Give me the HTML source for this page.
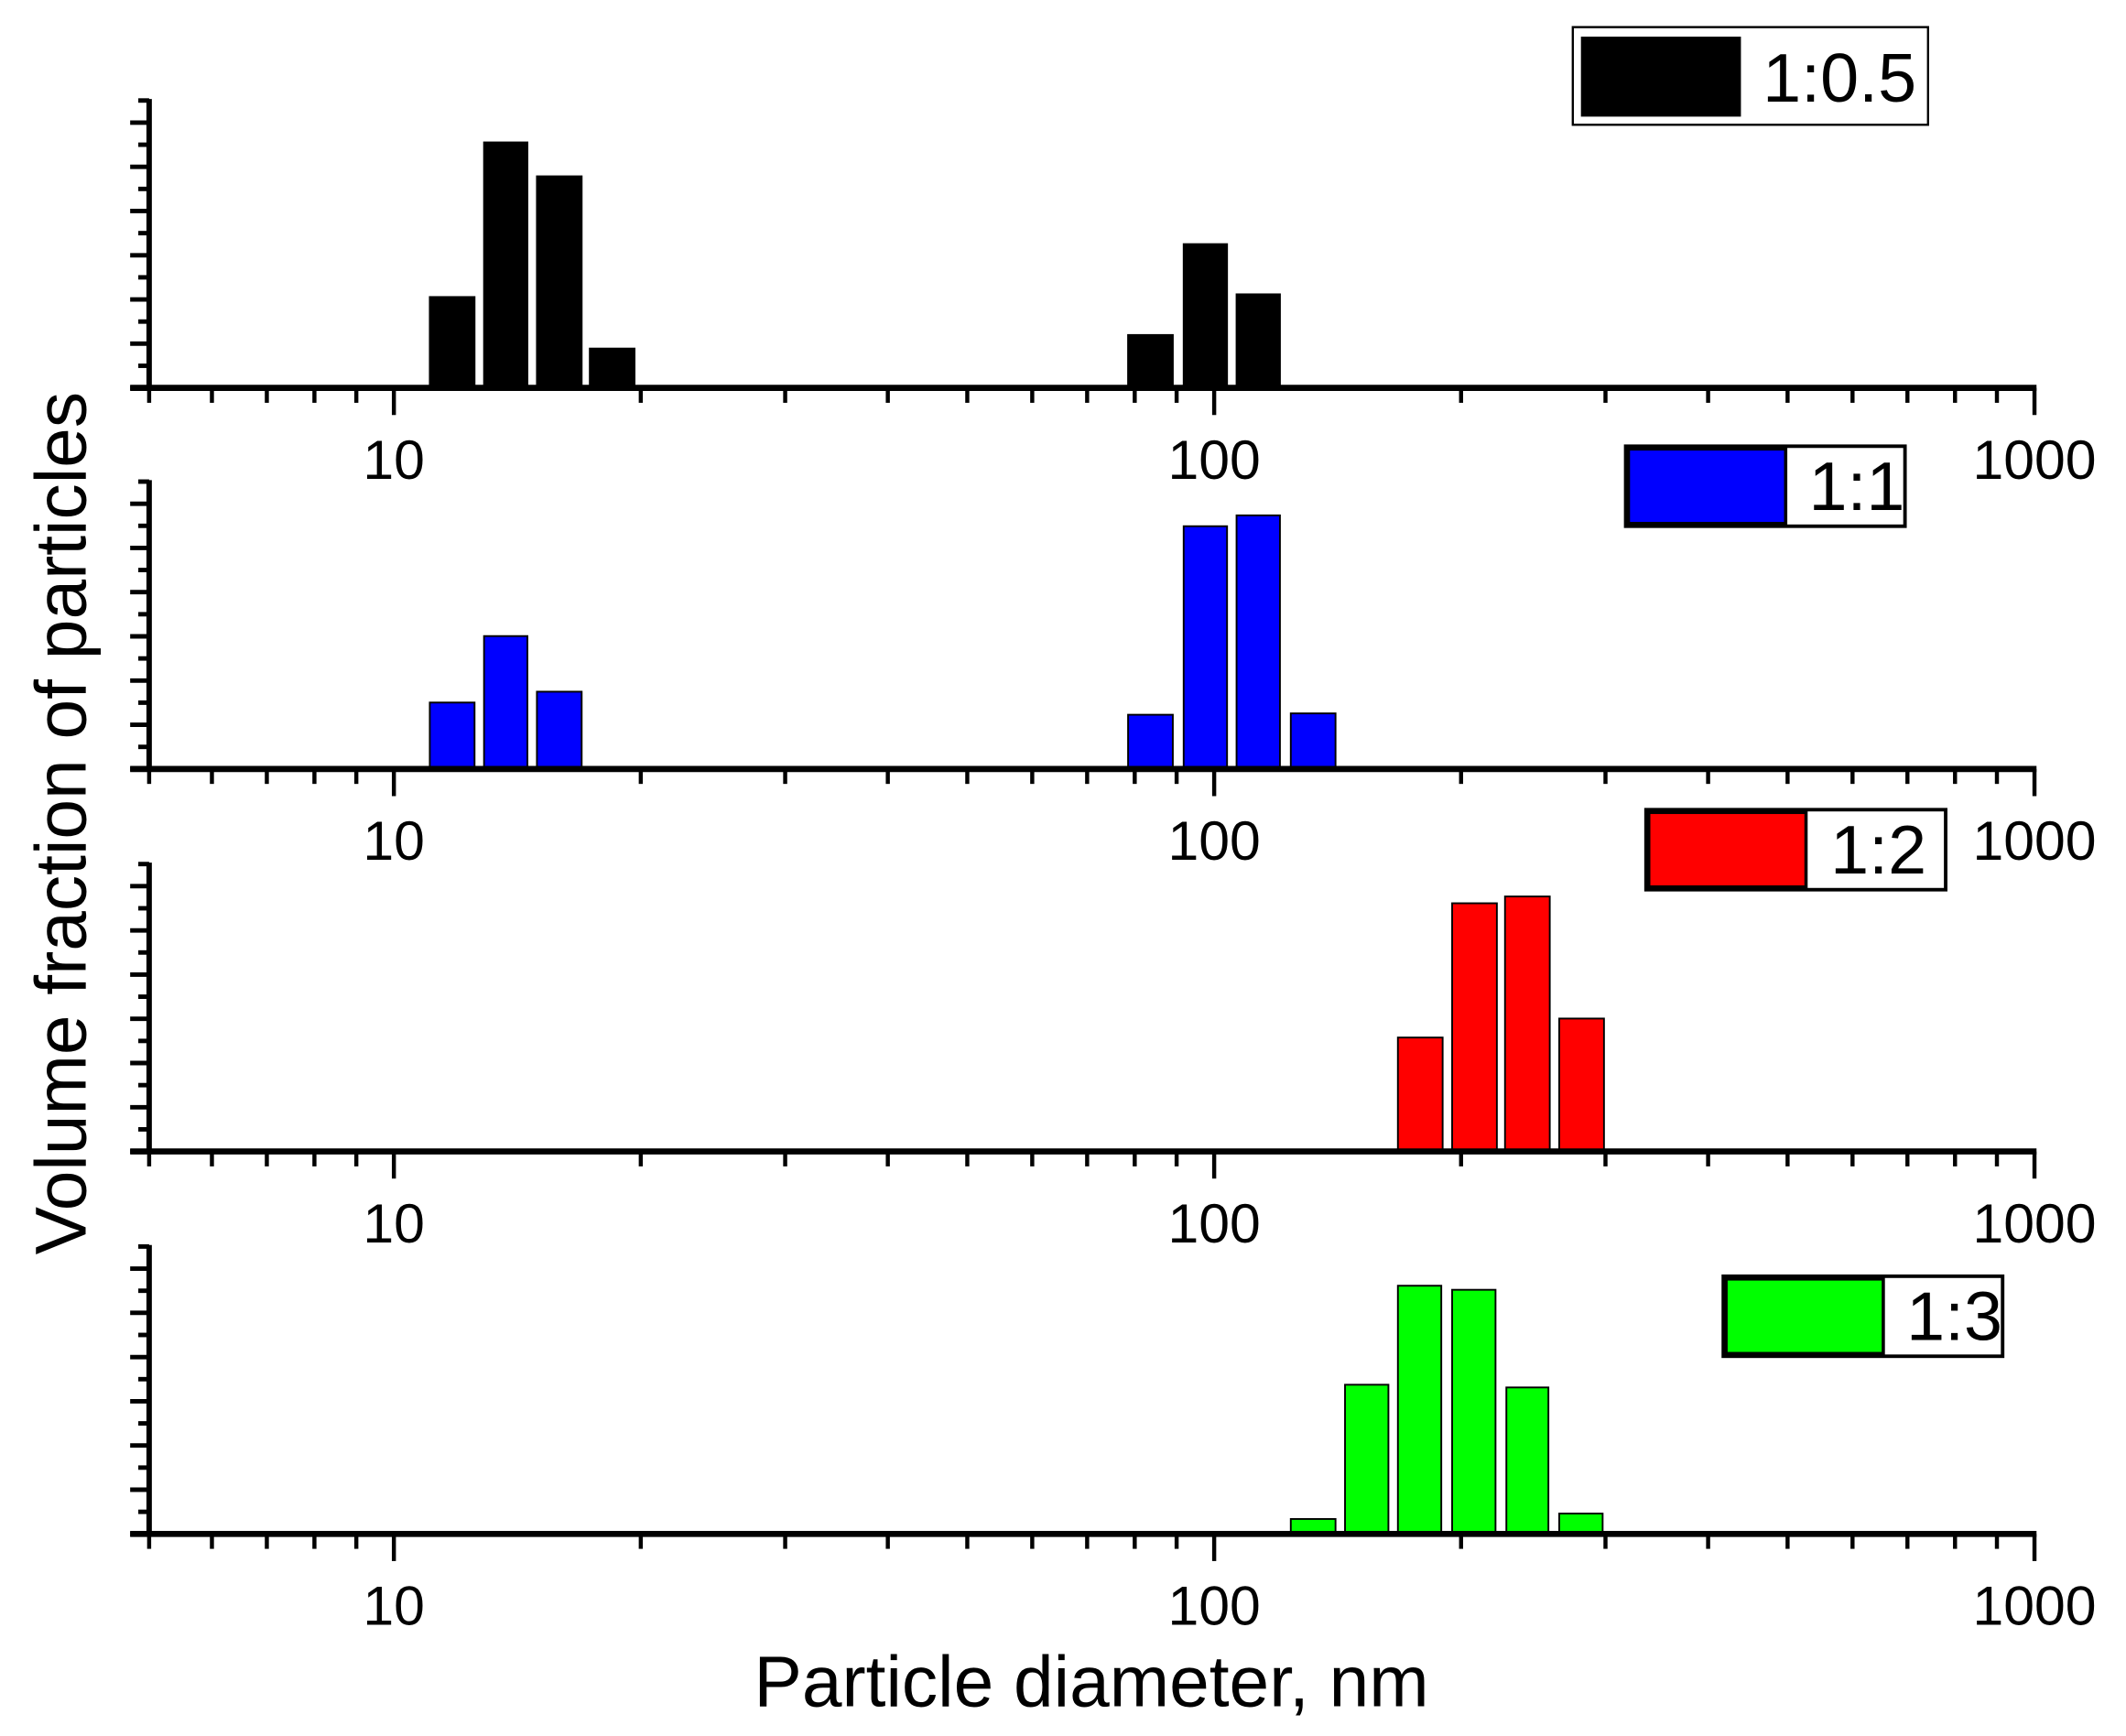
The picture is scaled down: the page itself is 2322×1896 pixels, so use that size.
<!DOCTYPE html>
<html><head><meta charset="utf-8"><style>
html,body{margin:0;padding:0;background:#fff}
svg{display:block}
text{font-family:"Liberation Sans",Arial,sans-serif;fill:#000}
</style></head><body>
<svg width="2322" height="1896" viewBox="0 0 1568 1280" preserveAspectRatio="none" xmlns="http://www.w3.org/2000/svg" xmlns:xlink="http://www.w3.org/1999/xlink">
<defs>
<g id="ax" stroke="#000">
  <line x1="110" y1="-213" x2="110" y2="2" stroke-width="4"/>
  <g stroke-width="3.3">
    <line x1="96" y1="0" x2="110" y2="0"/>
    <line x1="102" y1="-16.3" x2="110" y2="-16.3"/>
    <line x1="96" y1="-32.6" x2="110" y2="-32.6"/>
    <line x1="102" y1="-48.9" x2="110" y2="-48.9"/>
    <line x1="96" y1="-65.2" x2="110" y2="-65.2"/>
    <line x1="102" y1="-81.5" x2="110" y2="-81.5"/>
    <line x1="96" y1="-97.8" x2="110" y2="-97.8"/>
    <line x1="102" y1="-114.1" x2="110" y2="-114.1"/>
    <line x1="96" y1="-130.4" x2="110" y2="-130.4"/>
    <line x1="102" y1="-146.7" x2="110" y2="-146.7"/>
    <line x1="96" y1="-163" x2="110" y2="-163"/>
    <line x1="102" y1="-179.3" x2="110" y2="-179.3"/>
    <line x1="96" y1="-195.6" x2="110" y2="-195.6"/>
    <line x1="102" y1="-211.9" x2="110" y2="-211.9"/>
  </g>
  <line x1="96" y1="0" x2="1502" y2="0" stroke-width="4.5"/>
  <g stroke-width="3">
    <line x1="110" y1="0" x2="110" y2="11"/>
    <line x1="156.3" y1="0" x2="156.3" y2="11"/>
    <line x1="196.8" y1="0" x2="196.8" y2="11"/>
    <line x1="231.9" y1="0" x2="231.9" y2="11"/>
    <line x1="262.8" y1="0" x2="262.8" y2="11"/>
    <line x1="290.5" y1="0" x2="290.5" y2="20"/>
    <line x1="472.6" y1="0" x2="472.6" y2="11"/>
    <line x1="579.1" y1="0" x2="579.1" y2="11"/>
    <line x1="654.8" y1="0" x2="654.8" y2="11"/>
    <line x1="713.4" y1="0" x2="713.4" y2="11"/>
    <line x1="761.3" y1="0" x2="761.3" y2="11"/>
    <line x1="801.8" y1="0" x2="801.8" y2="11"/>
    <line x1="836.9" y1="0" x2="836.9" y2="11"/>
    <line x1="867.8" y1="0" x2="867.8" y2="11"/>
    <line x1="895.5" y1="0" x2="895.5" y2="20"/>
    <line x1="1077.6" y1="0" x2="1077.6" y2="11"/>
    <line x1="1184.1" y1="0" x2="1184.1" y2="11"/>
    <line x1="1259.8" y1="0" x2="1259.8" y2="11"/>
    <line x1="1318.4" y1="0" x2="1318.4" y2="11"/>
    <line x1="1366.3" y1="0" x2="1366.3" y2="11"/>
    <line x1="1406.8" y1="0" x2="1406.8" y2="11"/>
    <line x1="1441.9" y1="0" x2="1441.9" y2="11"/>
    <line x1="1472.8" y1="0" x2="1472.8" y2="11"/>
    <line x1="1500.5" y1="0" x2="1500.5" y2="20"/>
  </g>
</g>
</defs>

<!-- Panel 1 -->
<g stroke="#000" stroke-width="1.3" fill="#000">
  <rect x="317" y="219" width="33" height="67"/>
  <rect x="357" y="105" width="32" height="181"/>
  <rect x="396" y="130" width="33" height="156"/>
  <rect x="435" y="257" width="33" height="29"/>
  <rect x="832" y="247" width="33" height="39"/>
  <rect x="873" y="180" width="32" height="106"/>
  <rect x="912" y="217" width="32" height="69"/>
</g>
<use xlink:href="#ax" href="#ax" transform="translate(0,286)"/>
<text x="290.5" y="353" text-anchor="middle" font-size="41">10</text>
<text x="895.5" y="353" text-anchor="middle" font-size="41">100</text>
<text x="1500.5" y="353" text-anchor="middle" font-size="41">1000</text>
<rect x="1160" y="20" width="262" height="72" fill="#fff" stroke="#000" stroke-width="1.6"/>
<rect x="1166" y="27" width="118" height="59" fill="#000"/>
<text x="1300" y="75" font-size="51">1:0.5</text>

<!-- Panel 2 -->
<g stroke="#000" stroke-width="1.3" fill="#0000ff">
  <rect x="317" y="518" width="33" height="49"/>
  <rect x="357" y="469" width="32" height="98"/>
  <rect x="396" y="510" width="33" height="57"/>
  <rect x="832" y="527" width="33" height="40"/>
  <rect x="873" y="388" width="32" height="179"/>
  <rect x="912" y="380" width="32" height="187"/>
  <rect x="952" y="526" width="33" height="41"/>
</g>
<use xlink:href="#ax" href="#ax" transform="translate(0,567)"/>
<text x="290.5" y="634" text-anchor="middle" font-size="41">10</text>
<text x="895.5" y="634" text-anchor="middle" font-size="41">100</text>
<text x="1500.5" y="634" text-anchor="middle" font-size="41">1000</text>
<rect x="1199" y="329" width="206" height="59" fill="#fff" stroke="#000" stroke-width="2.6"/>
<rect x="1201" y="331" width="116" height="55" fill="#0000ff" stroke="#000" stroke-width="2.4"/>
<text x="1334" y="376" font-size="51">1:1</text>

<!-- Panel 3 -->
<g stroke="#000" stroke-width="1.3" fill="#ff0000">
  <rect x="1031" y="765" width="33" height="84"/>
  <rect x="1071" y="666" width="33" height="183"/>
  <rect x="1110" y="661" width="33" height="188"/>
  <rect x="1150" y="751" width="33" height="98"/>
</g>
<use xlink:href="#ax" href="#ax" transform="translate(0,849)"/>
<text x="290.5" y="916" text-anchor="middle" font-size="41">10</text>
<text x="895.5" y="916" text-anchor="middle" font-size="41">100</text>
<text x="1500.5" y="916" text-anchor="middle" font-size="41">1000</text>
<rect x="1214" y="597" width="221" height="59" fill="#fff" stroke="#000" stroke-width="2.6"/>
<rect x="1216" y="599" width="116" height="55" fill="#ff0000" stroke="#000" stroke-width="2.4"/>
<text x="1350" y="644" font-size="51">1:2</text>

<!-- Panel 4 -->
<g stroke="#000" stroke-width="1.3" fill="#00ff00">
  <rect x="952" y="1120" width="33" height="11"/>
  <rect x="992" y="1021" width="32" height="110"/>
  <rect x="1031" y="948" width="32" height="183"/>
  <rect x="1071" y="951" width="32" height="180"/>
  <rect x="1111" y="1023" width="31" height="108"/>
  <rect x="1150" y="1116" width="32" height="15"/>
</g>
<use xlink:href="#ax" href="#ax" transform="translate(0,1131)"/>
<text x="290.5" y="1198" text-anchor="middle" font-size="41">10</text>
<text x="895.5" y="1198" text-anchor="middle" font-size="41">100</text>
<text x="1500.5" y="1198" text-anchor="middle" font-size="41">1000</text>
<rect x="1271" y="941" width="206" height="59" fill="#fff" stroke="#000" stroke-width="2.6"/>
<rect x="1273" y="943" width="116" height="55" fill="#00ff00" stroke="#000" stroke-width="2.4"/>
<text x="1406" y="988" font-size="51">1:3</text>

<text x="805" y="1258" text-anchor="middle" font-size="53">Particle diameter, nm</text>
<text x="0" y="0" text-anchor="middle" font-size="53" transform="translate(63,607) rotate(-90)">Volume fraction of particles</text>
</svg>
</body></html>
